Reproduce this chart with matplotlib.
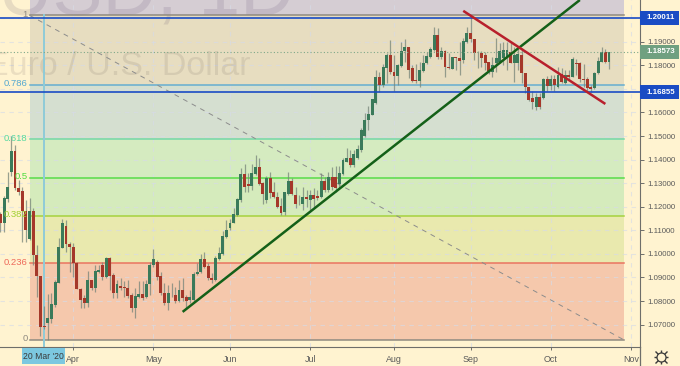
import matplotlib
matplotlib.use("Agg")
import matplotlib.pyplot as plt
from matplotlib.lines import Line2D
from matplotlib.patches import Rectangle
import numpy as np

# daily candles
opens = [1.1169,1.1130,1.1233,1.1349,1.1437,1.1278,1.1267,1.1182,1.1063,1.1182,1.0995,1.0908,1.0695,1.0705,1.0724,1.0785,1.0878,1.1026,1.1117,1.1042,
         1.1028,1.0960,1.0852,1.0811,1.0790,1.0889,1.0855,1.0925,1.0953,1.0903,1.0981,1.0911,1.0836,1.0864,1.0861,1.0857,1.0826,1.0772,1.0816,1.0830,
         1.0815,1.0871,1.0951,1.0965,1.0907,1.0836,1.0791,1.0836,1.0826,1.0802,1.0847,1.0819,1.0805,1.0805,1.0914,1.0922,1.0979,1.0949,1.0897,1.0890,
         1.0979,1.1000,1.1073,1.1108,1.1132,1.1163,1.1228,1.1339,1.1296,1.1288,1.1339,1.1370,1.1299,1.1228,1.1320,1.1262,1.1242,1.1203,1.1179,1.1252,
         1.1309,1.1250,1.1214,1.1211,1.1242,1.1228,1.1250,1.1245,1.1240,1.1310,1.1271,1.1326,1.1326,1.1297,1.1337,1.1390,1.1407,1.1376,1.1407,1.1440,
         1.1501,1.1566,1.1591,1.1638,1.1750,1.1716,1.1787,1.1845,1.1770,1.1755,1.1798,1.1860,1.1876,1.1787,1.1737,1.1734,1.1775,1.1808,1.1836,1.1865,
         1.1928,1.1834,1.1862,1.1794,1.1784,1.1834,1.1829,1.1822,1.1897,1.1936,1.1910,1.1853,1.1853,1.1844,1.1812,1.1770,1.1808,1.1815,1.1829,1.1834,
         1.1858,1.1811,1.1811,1.1844,1.1769,1.1706,1.1660,1.1624,1.1664,1.1660,1.1742,1.1713,1.1742,1.1706,1.1763,1.1726,1.1759,1.1752,1.1808,1.1808,
         1.1743,1.1743,1.1709,1.1702,1.1766,1.1815,1.1855,1.1815]
highs = [1.1179,1.1246,1.1349,1.1498,1.1462,1.1314,1.1285,1.1229,1.1236,1.1193,1.1038,1.0908,1.0780,1.0830,1.0833,1.0889,1.1066,1.1148,1.1144,1.1052,
         1.1045,1.0967,1.0854,1.0826,1.0929,1.0889,1.0953,1.0953,1.0967,1.0988,1.0988,1.0918,1.0890,1.0897,1.0883,1.0890,1.0833,1.0854,1.0883,1.0883,
         1.0890,1.0965,1.1021,1.0975,1.0925,1.0876,1.0869,1.0876,1.0861,1.0890,1.0897,1.0826,1.0847,1.0925,1.0960,1.1000,1.1006,1.0960,1.0918,1.0989,
         1.1031,1.1095,1.1143,1.1150,1.1193,1.1235,1.1363,1.1381,1.1342,1.1381,1.1419,1.1405,1.1306,1.1330,1.1349,1.1306,1.1264,1.1235,1.1264,1.1349,
         1.1320,1.1285,1.1250,1.1285,1.1271,1.1271,1.1278,1.1271,1.1342,1.1327,1.1349,1.1369,1.1373,1.1373,1.1405,1.1451,1.1440,1.1440,1.1461,1.1535,
         1.1598,1.1628,1.1659,1.1780,1.1772,1.1804,1.1853,1.1907,1.1843,1.1804,1.1900,1.1911,1.1879,1.1801,1.1805,1.1815,1.1843,1.1857,1.1879,1.1961,
         1.1957,1.1879,1.1865,1.1851,1.1836,1.1834,1.1900,1.1914,1.1964,1.2009,1.1911,1.1862,1.1862,1.1858,1.1815,1.1836,1.1914,1.1893,1.1900,1.1900,
         1.1893,1.1879,1.1868,1.1872,1.1769,1.1706,1.1692,1.1681,1.1681,1.1744,1.1754,1.1759,1.1759,1.1794,1.1787,1.1780,1.1780,1.1834,1.1827,1.1815,
         1.1805,1.1749,1.1716,1.1773,1.1834,1.1876,1.1868,1.1858]
lows = [1.1094,1.1094,1.1222,1.1331,1.1271,1.1250,1.1052,1.1052,1.1059,1.0953,1.0818,1.0653,1.0681,1.0635,1.0705,1.0776,1.0875,1.1024,1.1010,1.0925,
        1.0901,1.0850,1.0769,1.0769,1.0776,1.0847,1.0840,1.0918,1.0889,1.0896,1.0847,1.0812,1.0812,1.0847,1.0815,1.0812,1.0755,1.0727,1.0812,1.0805,
        1.0812,1.0826,1.0946,1.0890,1.0826,1.0784,1.0762,1.0819,1.0791,1.0798,1.0802,1.0769,1.0791,1.0798,1.0911,1.0918,1.0939,1.0890,1.0876,1.0883,
        1.0975,1.0996,1.1066,1.1101,1.1129,1.1160,1.1221,1.1264,1.1264,1.1271,1.1334,1.1292,1.1211,1.1214,1.1235,1.1235,1.1193,1.1165,1.1165,1.1250,
        1.1250,1.1193,1.1207,1.1186,1.1200,1.1186,1.1200,1.1228,1.1235,1.1264,1.1264,1.1271,1.1263,1.1280,1.1334,1.1388,1.1369,1.1369,1.1402,1.1433,
        1.1497,1.1525,1.1588,1.1634,1.1688,1.1709,1.1723,1.1765,1.1690,1.1716,1.1794,1.1815,1.1744,1.1730,1.1723,1.1709,1.1770,1.1804,1.1832,1.1860,
        1.1827,1.1827,1.1752,1.1783,1.1783,1.1780,1.1759,1.1808,1.1893,1.1900,1.1822,1.1787,1.1794,1.1780,1.1763,1.1749,1.1773,1.1808,1.1801,1.1780,
        1.1808,1.1730,1.1780,1.1726,1.1684,1.1650,1.1613,1.1610,1.1613,1.1657,1.1692,1.1695,1.1692,1.1702,1.1723,1.1720,1.1737,1.1749,1.1759,1.1730,
        1.1706,1.1688,1.1688,1.1698,1.1763,1.1812,1.1808,1.1783]
closes = [1.1133,1.1236,1.1285,1.1437,1.1278,1.1261,1.1182,1.1101,1.1182,1.0995,1.0908,1.0688,1.0688,1.0727,1.0787,1.0879,1.1031,1.1131,1.1042,1.1028,
          1.0960,1.0852,1.0804,1.0790,1.0889,1.0854,1.0929,1.0932,1.0901,1.0981,1.0906,1.0836,1.0873,1.0857,1.0854,1.0822,1.0772,1.0823,1.0830,1.0812,
          1.0873,1.0951,1.0979,1.0901,1.0833,1.0791,1.0833,1.0832,1.0802,1.0847,1.0812,1.0802,1.0816,1.0914,1.0925,1.0979,1.0946,1.0897,1.0890,1.0982,
          1.1003,1.1077,1.1101,1.1133,1.1169,1.1231,1.1339,1.1285,1.1288,1.1342,1.1370,1.1295,1.1252,1.1320,1.1259,1.1240,1.1201,1.1172,1.1264,1.1309,
          1.1252,1.1211,1.1217,1.1240,1.1231,1.1250,1.1233,1.1235,1.1310,1.1271,1.1327,1.1284,1.1280,1.1343,1.1397,1.1407,1.1379,1.1423,1.1444,1.1525,
          1.1569,1.1593,1.1655,1.1750,1.1716,1.1791,1.1845,1.1770,1.1755,1.1801,1.1862,1.1876,1.1780,1.1733,1.1734,1.1780,1.1811,1.1840,1.1871,1.1928,
          1.1834,1.1862,1.1791,1.1787,1.1834,1.1829,1.1819,1.1903,1.1936,1.1910,1.1851,1.1851,1.1829,1.1808,1.1777,1.1801,1.1829,1.1862,1.1865,1.1865,
          1.1811,1.1844,1.1846,1.1766,1.1706,1.1653,1.1645,1.1664,1.1624,1.1742,1.1713,1.1742,1.1716,1.1759,1.1730,1.1759,1.1749,1.1827,1.1805,1.1740,
          1.1737,1.1702,1.1701,1.1769,1.1819,1.1855,1.1812,1.1855]

# fibonacci tool
fib_ratios = ["1", "0.786", "0.618", "0.5", "0.382", "0.236", "0"]
fib_prices = [1.2012, 1.1718, 1.1487, 1.1324, 1.1162, 1.0961, 1.0636]
fib_line_colors = ["#8f8a80", "#66aed0", "#74d8a6", "#58dc48", "#a6d23e", "#ea7460", "#8f8a80"]
fib_text_colors = ["#8f8a80", "#55a8d0", "#55d8a0", "#50dc40", "#a0d030", "#ee6a5a", "#8f8a80"]
band_colors = ["#d5cdd3", "#e7ddc0", "#d5dfd0", "#d5ebc0", "#d5ebbc", "#e9e9ae", "#f5c8ac"]
fib_start = 8
fib_end = 171

# drawn lines, (bar, price)
green_trend = ([50, 159], [1.0754, 1.2077])
red_trend = ([127, 166], [1.2031, 1.1636])
blue_levels = [1.20011, 1.16855]
last_price = 1.18573
marked_bar = 12

price_ticks = [1.07, 1.08, 1.09, 1.10, 1.11, 1.12, 1.13, 1.14, 1.15, 1.16, 1.17, 1.18, 1.19, 1.20]
month_bars = [20, 42, 63, 85, 108, 129, 151, 173]
month_labels = ["Apr", "May", "Jun", "Jul", "Aug", "Sep", "Oct", "Nov"]

W, H = 680, 366
BG = "#fff3d0"
AXIS = "#6e6e6a"
FONT = "Liberation Sans"


def price_label(ax, price, color):
    ax.add_patch(Rectangle((1.0, price - 0.003), 39 / 640, 0.006, transform=ax.get_yaxis_transform(),
                           facecolor=color, edgecolor="none", clip_on=False, zorder=6))
    ax.text(1.0 + 6 / 640, price, f"{price:.5f}", transform=ax.get_yaxis_transform(), color="white",
            fontsize=5.7, fontweight="bold", family=FONT, va="center", ha="left", zorder=7, clip_on=False)


def main():
    fig = plt.figure(figsize=(W / 100, H / 100), dpi=100, facecolor=BG)
    ax = fig.add_axes([0, 19 / H, 640 / W, 347 / H], facecolor=BG)
    ax.set_xlim(-0.11, 175.5)
    ax.set_ylim(1.0605, 1.2077)

    # fib bands, the first one runs up off the chart
    edges = [ax.get_ylim()[1]] + fib_prices
    for i, color in enumerate(band_colors):
        ax.fill_between([fib_start, fib_end], edges[i + 1], edges[i], color=color, lw=0, zorder=0.2)
    for price, color in zip(fib_prices, fib_line_colors):
        ax.plot([fib_start, fib_end], [price, price], color=color, lw=1.1, zorder=1)
    ax.plot([fib_start, fib_end], [fib_prices[0], fib_prices[-1]], color="#8c8c8c", lw=0.7,
            dashes=(5, 5), zorder=1)
    ax.axvline(marked_bar, ymax=(fib_prices[0] - 1.0605) / (1.2077 - 1.0605), color="#8fcbd8", lw=1.4, zorder=1)

    # watermark
    ax.text(294 / 640, 1 - 15 / 347, "EURUSD, 1D", transform=ax.transAxes, ha="right", va="baseline",
            fontsize=54, family=FONT, color="#4a3a60", alpha=0.13, zorder=0.8, clip_on=True)
    ax.text(250 / 640, 1 - 75 / 347, "Euro / U.S. Dollar", transform=ax.transAxes, ha="right", va="baseline",
            fontsize=24.5, family=FONT, color="#4a3a40", alpha=0.11, zorder=0.8)

    # candles
    bars = np.arange(len(closes))
    o = np.array(opens)
    c = np.array(closes)
    colors = np.where(c >= o, "#3a7a5a", "#a5382a")
    ax.vlines(bars, lows, highs, colors="#77857a", lw=0.9, alpha=0.75, zorder=2)
    ax.bar(bars, np.maximum(np.abs(c - o), 0.0003), bottom=np.minimum(o, c), width=0.8, color=colors, lw=0, zorder=2.2)

    ax.axhline(last_price, color="#7fa88a", lw=0.8, ls=(0, (1, 2)), zorder=2.4)
    for price in blue_levels:
        ax.axhline(price, color="#1a4cc4", lw=1.2, zorder=3)
    ax.plot(*green_trend, color="#146018", lw=1.8, zorder=3.2, solid_capstyle="butt")
    ax.plot(*red_trend, color="#b8202c", lw=1.8, zorder=3.3, solid_capstyle="butt")

    for label, price, color in zip(fib_ratios, fib_prices, fib_text_colors):
        ax.text(fib_start - 0.55, price + 0.0003, label, color=color, fontsize=6.8, family=FONT,
                ha="right", va="center", zorder=4)

    # axes
    ax.yaxis.tick_right()
    ax.set_yticks(price_ticks)
    ax.set_yticklabels([f"{p:.5f}" for p in price_ticks], fontsize=5.7, family=FONT, color="#5a5a5a")
    ax.set_xticks(month_bars)
    ax.set_xticklabels(month_labels, fontsize=6.4, family=FONT, color="#5a5a5a")
    ax.tick_params(axis="y", length=3, width=0.7, color=AXIS, pad=2.2)
    ax.tick_params(axis="x", length=2.5, width=0.7, color=AXIS, pad=3)
    ax.grid(True, color="#d6dbe8", lw=0.8, ls=(0, (4, 4)), alpha=0.65)
    ax.set_axisbelow(True)
    for side in ["top", "left"]:
        ax.spines[side].set_visible(False)
    ax.spines["right"].set_color(AXIS)
    ax.spines["bottom"].set_color(AXIS)
    fig.add_artist(Line2D([640 / W, 640 / W], [0, 19 / H], color=AXIS, lw=0.9))

    # price labels on the scale
    price_label(ax, blue_levels[0], "#1a4cc4")
    price_label(ax, last_price, "#6fa080")
    price_label(ax, blue_levels[1], "#1a4cc4")

    # crosshair date label
    fig.add_artist(Rectangle((22 / W, 2 / H), 43 / W, 16 / H, transform=fig.transFigure,
                             facecolor="#7cc8e0", edgecolor="none"))
    fig.text(43.5 / W, 9.5 / H, "20 Mar '20", fontsize=6.2, family=FONT, color="#3a3a3a", ha="center", va="center")

    # settings gear
    gear = (661 / W, 9 / H)
    for marker, size in [("+", 10), ("x", 9)]:
        fig.add_artist(Line2D([gear[0]], [gear[1]], marker=marker, ms=size, mew=1.0, color="#3a3a3a", ls=""))
    fig.add_artist(Line2D([gear[0]], [gear[1]], marker="o", ms=6.5, mfc=BG, mec="#3a3a3a", mew=0.9, ls=""))

    fig.savefig("out.png", dpi=100, facecolor=BG)


if __name__ == "__main__":
    main()
